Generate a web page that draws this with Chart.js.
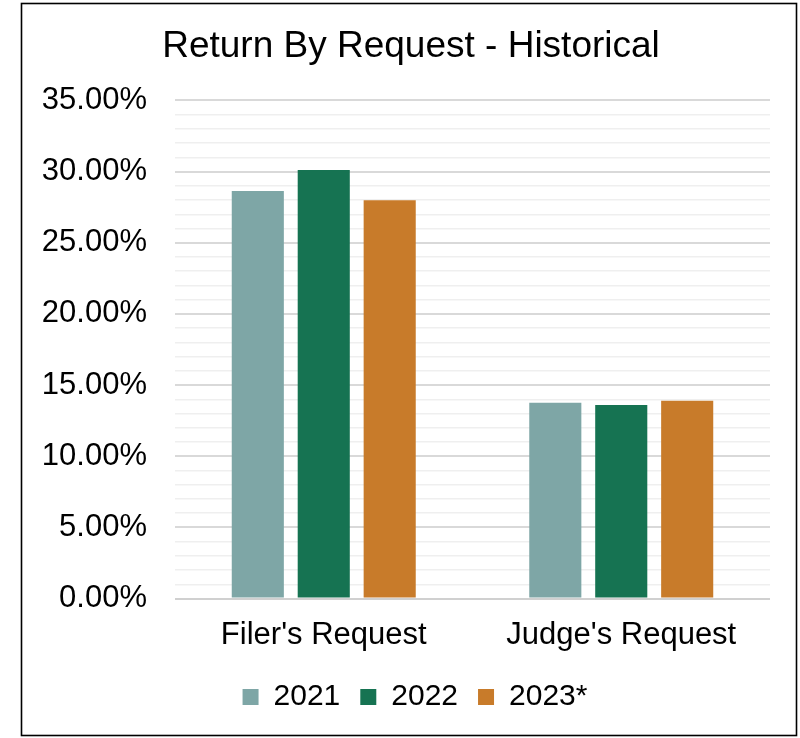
<!DOCTYPE html>
<html>
<head>
<meta charset="utf-8">
<script src="https://cdn.jsdelivr.net/npm/chart.js@4"></script>
<style>
  html, body { margin: 0; padding: 0; background: #fff; }
  #wrap { position: relative; width: 800px; height: 738px; }
  canvas { display: block; }
</style>
</head>
<body>
<div id="wrap"><canvas id="c" width="800" height="738"></canvas></div>
<script>
const categories = ["Filer's Request", "Judge's Request"];
const seriesNames = ["2021", "2022", "2023*"];
const values2021 = [28.63, 13.75];
const values2022 = [30.11, 13.59];
const values2023 = [27.99, 13.89];
const seriesColors = ["#7ea6a6", "#167352", "#c87b2a"];
const yMin = 0, yMax = 35, yMinorStep = 1, yMajorStep = 5;

const FONT = "'Liberation Sans', Arial, sans-serif";

const borderPlugin = {
  id: 'outerBorder',
  afterDraw(chart) {
    const ctx = chart.ctx;
    ctx.save();
    ctx.strokeStyle = '#000';
    ctx.lineWidth = 1.6;
    ctx.strokeRect(21.5, 3.5, 775, 732);
    ctx.restore();
  }
};

const bgPlugin = {
  id: 'bg',
  beforeDraw(chart) {
    const ctx = chart.ctx;
    ctx.save();
    ctx.fillStyle = '#fff';
    ctx.fillRect(0, 0, chart.width, chart.height);
    ctx.restore();
  }
};

// centre title and legend on the outer frame rather than on the layout box
const shiftPlugin = {
  id: 'shiftBlocks',
  afterLayout(chart) {
    if (chart.titleBlock) { chart.titleBlock.left += 9; chart.titleBlock.right += 9; }
    if (chart.legend) { chart.legend.left += 13; chart.legend.right += 13; }
  }
};

const seriesData = [values2021, values2022, values2023];

new Chart(document.getElementById('c'), {
  type: 'bar',
  data: {
    labels: categories,
    datasets: seriesNames.map((n, i) => ({
      label: n,
      data: seriesData[i],
      backgroundColor: seriesColors[i],
      borderWidth: 0,
      categoryPercentage: 0.665,
      barPercentage: 0.79
    }))
  },
  options: {
    responsive: false,
    animation: false,
    layout: { padding: { left: 34, right: 30, top: 15, bottom: 16 } },
    plugins: {
      title: {
        display: true,
        text: 'Return By Request - Historical',
        color: '#000',
        font: { family: FONT, size: 37, weight: 'normal' },
        padding: { top: 10, bottom: 31 }
      },
      legend: {
        position: 'bottom',
        labels: {
          color: '#000',
          font: { family: FONT, size: 30 },
          boxWidth: 16,
          boxHeight: 16,
          padding: 20
        }
      },
      tooltip: { enabled: false }
    },
    scales: {
      x: {
        grid: { display: false, drawTicks: false },
        border: { display: false },
        ticks: { color: '#000', font: { family: FONT, size: 31 }, padding: 18 },
        afterFit(scale) { scale.height = 63.5; }
      },
      y: {
        min: yMin,
        max: yMax,
        border: { display: false },
        grid: {
          drawTicks: false,
          color: (c) => {
            const v = c.tick ? c.tick.value : 0;
            if (v === 0) return '#d0d0d0';
            return v % yMajorStep === 0 ? '#d9d9d9' : '#efefef';
          },
          lineWidth: (c) => {
            const v = c.tick ? c.tick.value : 0;
            return v % yMajorStep === 0 ? 2 : 1.5;
          }
        },
        ticks: {
          stepSize: yMinorStep,
          autoSkip: false,
          color: '#000',
          font: { family: FONT, size: 31 },
          padding: 28,
          callback: (v) => (v % yMajorStep === 0 ? v.toFixed(2) + '%' : '')
        },
        afterFit(scale) { scale.width = 141; }
      }
    }
  },
  plugins: [bgPlugin, shiftPlugin, borderPlugin]
});
</script>
</body>
</html>
